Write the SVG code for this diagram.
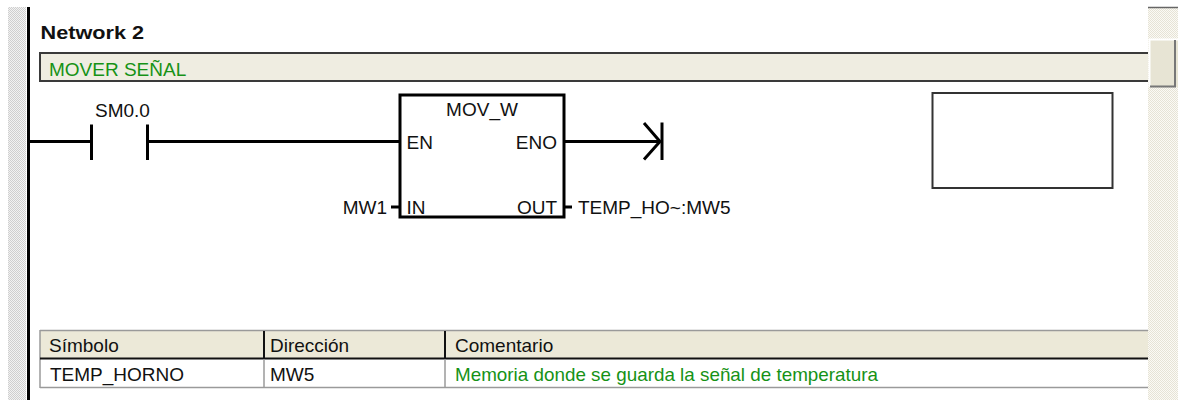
<svg xmlns="http://www.w3.org/2000/svg" width="1178" height="400" viewBox="0 0 1178 400">
<defs>
<pattern id="hatchGray" width="2" height="2" patternUnits="userSpaceOnUse">
<rect width="2" height="2" fill="#f2f2f2"/>
<rect width="1" height="1" fill="#cfcfcf"/>
<rect x="1" y="1" width="1" height="1" fill="#cfcfcf"/>
</pattern>
<pattern id="hatchBeige" width="2" height="2" patternUnits="userSpaceOnUse">
<rect width="2" height="2" fill="#fbfaf5"/>
<rect width="1" height="1" fill="#e6e3d6"/>
<rect x="1" y="1" width="1" height="1" fill="#e6e3d6"/>
</pattern>
</defs>
<style>
text{font-family:"Liberation Sans",Arial,sans-serif;font-size:19px;fill:#111}
.bold{font-weight:bold}
.green{fill:#169216}
.wire{stroke:#000;stroke-width:3;fill:none}
.thin{stroke:#333;stroke-width:2;fill:none}
.grid{stroke:#9a9a9a;stroke-width:1.5;fill:none}
.dark{stroke:#111;stroke-width:2;fill:none}
</style>
<rect width="1178" height="400" fill="#ffffff"/>

<g id="left-margin">
<rect x="8" y="7" width="18" height="393" fill="url(#hatchGray)"/>
<rect x="27" y="7" width="3" height="393" fill="#000"/>
</g>

<g id="scrollbar">
<rect x="1148" y="7" width="30" height="393" fill="url(#hatchBeige)"/>
<line x1="1148" y1="7.5" x2="1178" y2="7.5" stroke="#666" stroke-width="1.5"/>
<rect x="1149" y="39" width="29" height="48" fill="#e7e4d4"/>
<path d="M1149.5 87 V39.5 H1178" stroke="#fff" stroke-width="2" fill="none"/>
<path d="M1150 86.5 H1175 V40" stroke="#777" stroke-width="2" fill="none"/>
</g>

<g id="title">
<text class="bold" x="40.5" y="38.5" textLength="103.5" lengthAdjust="spacingAndGlyphs">Network 2</text>
</g>

<g id="comment-bar">
<rect x="39" y="52" width="1109" height="30" fill="#efede1"/>
<path d="M1148 53 H40 V81 H1148" stroke="#3a3a3a" stroke-width="2" fill="none"/>
<text class="green" x="49" y="76">MOVER SEÑAL</text>
</g>

<g id="connectors">
<line class="wire" x1="29" y1="141.5" x2="91.5" y2="141.5"/>
<line class="wire" x1="147.5" y1="141.5" x2="400" y2="141.5"/>
<line class="wire" x1="564" y1="141.5" x2="660" y2="141.5"/>
<line class="wire" x1="391" y1="207" x2="400" y2="207"/>
<line class="wire" x1="564" y1="207" x2="572" y2="207"/>
</g>

<g id="contact-SM0.0">
<line class="wire" x1="91.5" y1="124.5" x2="91.5" y2="160"/>
<line class="wire" x1="147.5" y1="124.5" x2="147.5" y2="160"/>
<text x="95" y="116.5">SM0.0</text>
</g>

<g id="box-MOV_W">
<rect class="wire" x="400" y="95" width="164" height="122"/>
<text x="482" y="116" text-anchor="middle">MOV_W</text>
<text x="406.5" y="149">EN</text>
<text x="557" y="149" text-anchor="end">ENO</text>
<text x="406.5" y="213.5">IN</text>
<text x="557" y="213.5" text-anchor="end">OUT</text>
<text x="387" y="213.5" text-anchor="end">MW1</text>
<text x="578" y="213.5">TEMP_HO~:MW5</text>
</g>

<g id="end-arrow">
<polyline class="wire" points="644,123 660,141.5 644,159.5"/>
<line class="wire" x1="662" y1="122.5" x2="662" y2="160"/>
</g>

<g id="empty-box">
<rect class="thin" x="932.5" y="93" width="180" height="95"/>
</g>

<g id="symbol-table">
<rect x="40" y="330" width="1108" height="29" fill="#ece9d8"/>
<rect x="40" y="359" width="1108" height="29" fill="#ffffff"/>
<line class="grid" x1="40" y1="330.5" x2="1148" y2="330.5"/>
<line class="grid" x1="40" y1="330" x2="40" y2="388"/>
<line class="grid" x1="40" y1="387.5" x2="1148" y2="387.5"/>
<line x1="40" y1="358.5" x2="1148" y2="358.5" stroke="#111" stroke-width="2"/>
<line x1="264" y1="331" x2="264" y2="358" stroke="#111" stroke-width="2"/>
<line x1="445" y1="331" x2="445" y2="358" stroke="#111" stroke-width="2"/>
<line class="grid" x1="264" y1="359" x2="264" y2="388"/>
<line class="grid" x1="445" y1="359" x2="445" y2="388"/>
<text x="49" y="352">Símbolo</text>
<text x="270" y="352">Dirección</text>
<text x="455" y="352">Comentario</text>
<text x="50" y="381">TEMP_HORNO</text>
<text x="270" y="381">MW5</text>
<text class="green" x="455" y="381" textLength="423" lengthAdjust="spacingAndGlyphs">Memoria donde se guarda la señal de temperatura</text>
</g>
</svg>
